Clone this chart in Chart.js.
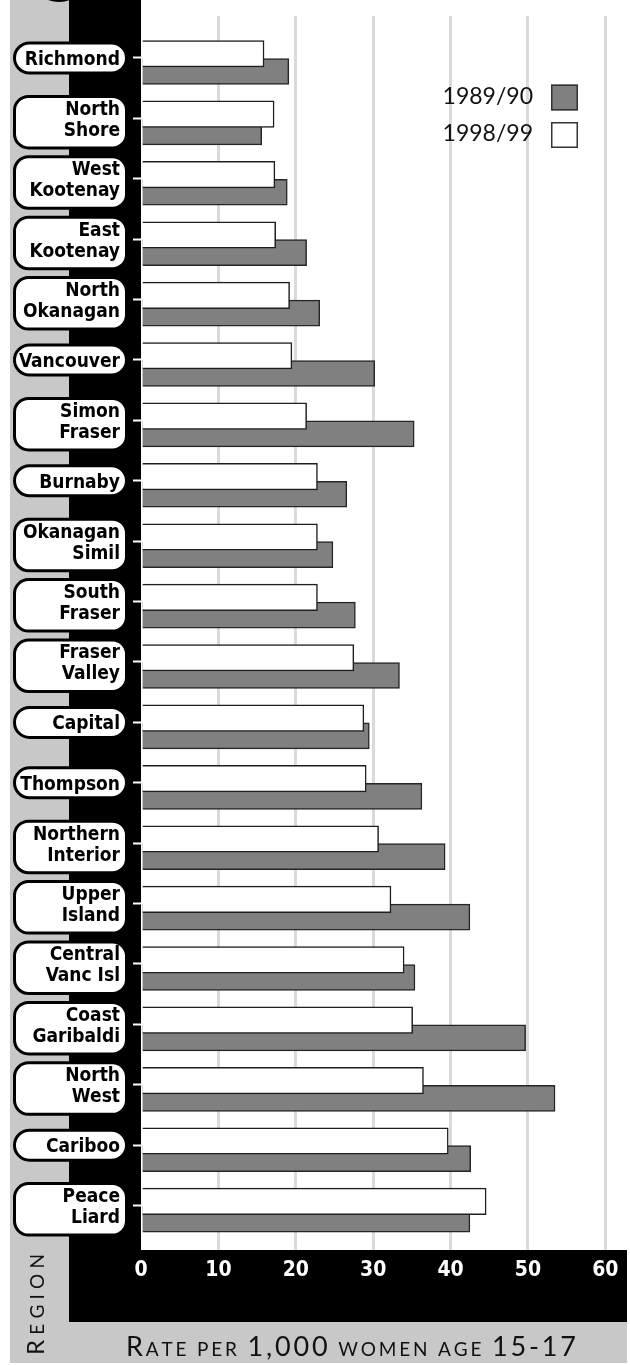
<!DOCTYPE html>
<html>
<head>
<meta charset="utf-8">
<script src="https://cdn.jsdelivr.net/npm/chart.js@4.4.1/dist/chart.umd.min.js"></script>
<style>
html, body { margin: 0; padding: 0; background: #fff; }
canvas { display: block; }
</style>
</head>
<body>
<canvas id="c" width="630" height="1365"></canvas>
<script>
// ---------- data ----------
const categories = [
  ['Richmond'], ['North', 'Shore'], ['West', 'Kootenay'], ['East', 'Kootenay'], ['North', 'Okanagan'],
  ['Vancouver'], ['Simon', 'Fraser'], ['Burnaby'], ['Okanagan', 'Simil'], ['South', 'Fraser'],
  ['Fraser', 'Valley'], ['Capital'], ['Thompson'], ['Northern', 'Interior'], ['Upper', 'Island'],
  ['Central', 'Vanc Isl'], ['Coast', 'Garibaldi'], ['North', 'West'], ['Cariboo'], ['Peace', 'Liard']
];
const seriesNames = ['1989/90', '1998/99'];
const rate1989 = [19.1, 15.6, 18.9, 21.4, 23.1, 30.2, 35.3, 26.6, 24.8, 27.7, 33.4, 29.5, 36.3, 39.3, 42.5, 35.4, 49.7, 53.5, 42.6, 42.5];
const rate1998 = [15.9, 17.2, 17.3, 17.4, 19.2, 19.5, 21.4, 22.8, 22.8, 22.8, 27.5, 28.8, 29.1, 30.7, 32.3, 34.0, 35.1, 36.5, 39.7, 44.6];
const xTicks = [0, 10, 20, 30, 40, 50, 60];
const xTitle = [['R', 1], ['ATE PER ', 0], ['1,000', 1], [' WOMEN AGE ', 0], ['15-17', 1]];
const yTitle = [['R', 1], ['EGION', 0]];

// ---------- styling ----------
const COND = '"DejaVu Sans Condensed", "Liberation Sans Narrow", "DejaVu Sans", sans-serif';
const HUM = 'Lato, "Open Sans", "DejaVu Sans", sans-serif';
const GRAY_FILL = '#808080';
const STRIP = '#c8c8c8';
const GRID = '#dadada';
const Y_MIN = -0.695, Y_SPAN = 20.43;
const WHITE_SHIFT = -0.0695;   // white bars sit slightly above the tick
const GRAY_SHIFT = 0.2235;     // grey bars sit below, partly covered

function drawCaps(ctx, parts, bigSize, smallSize, family, x, y, target) {
  const chars = [];
  parts.forEach(([txt, big]) => {
    for (const ch of txt) chars.push([ch, big ? bigSize : smallSize]);
  });
  let natural = 0;
  chars.forEach(c => { ctx.font = c[1] + 'px ' + family; c.push(ctx.measureText(c[0]).width); natural += c[2]; });
  const sp = (target - natural) / (chars.length - 1);
  let cx = x;
  chars.forEach(c => {
    ctx.font = c[1] + 'px ' + family;
    ctx.fillText(c[0], cx, y);
    cx += c[2] + sp;
  });
}

const backdrop = {
  id: 'backdrop',
  beforeDraw(chart) {
    const { ctx, chartArea: a } = chart;
    ctx.save();
    ctx.fillStyle = '#fff';
    ctx.fillRect(0, 0, chart.width, chart.height);
    ctx.fillStyle = STRIP;
    ctx.fillRect(10, 0, 59, 1363);
    ctx.fillRect(10, 1322, a.right - 10, 41);
    ctx.fillStyle = '#000';
    ctx.fillRect(69, 0, a.left - 69, 1322);
    ctx.fillRect(69, a.bottom, a.right - 69, 1322 - a.bottom);
    ctx.beginPath();
    ctx.arc(59, -29, 31, 0, Math.PI * 2);
    ctx.fill();
    // rounded label boxes
    const ys = chart.scales.y;
    ys.ticks.forEach(t => {
      const lines = categories[t.value].length;
      const py = ys.getPixelForValue(t.value);
      const top = lines > 1 ? py - 22 : py - 15;
      const h = lines > 1 ? 51.5 : 30;
      ctx.beginPath();
      ctx.roundRect(14.5, top, 112, h, lines > 1 ? 14 : 15);
      ctx.fillStyle = '#fff';
      ctx.fill();
      ctx.lineWidth = 3;
      ctx.strokeStyle = '#000';
      ctx.stroke();
    });
    ctx.restore();
  }
};

const decorations = {
  id: 'decorations',
  afterDraw(chart) {
    const { ctx, chartArea: a } = chart;
    ctx.save();
    // legend (box at right of label)
    const items = [chart.data.datasets[1], chart.data.datasets[0]];
    const bx = a.right - 76;
    items.forEach((ds, i) => {
      const top = a.top + 68.5 + i * 37.5;
      ctx.fillStyle = ds.backgroundColor;
      ctx.fillRect(bx, top, 27, 26);
      ctx.lineWidth = 1.5;
      ctx.strokeStyle = '#333';
      ctx.strokeRect(bx + 0.75, top + 0.75, 25.5, 24.5);
      ctx.fillStyle = '#111';
      ctx.font = '23px ' + HUM;
      ctx.textAlign = 'right';
      ctx.textBaseline = 'alphabetic';
      ctx.fillText(ds.label, bx - 18, top + 19);
    });
    // x title in small caps
    ctx.textAlign = 'left';
    ctx.fillStyle = '#111';
    drawCaps(ctx, xTitle, 27, 19, HUM, 126, 1356, 450);
    // rotated y title
    ctx.translate(44, 1355);
    ctx.rotate(-Math.PI / 2);
    drawCaps(ctx, yTitle, 24, 19, HUM, 0, 0, 101);
    ctx.restore();
  }
};

const noPad = s => { s.paddingTop = 0; s.paddingBottom = 0; s.paddingLeft = 0; s.paddingRight = 0; };

const hiddenIndexAxis = (shift) => ({
  type: 'linear', display: false, reverse: true, bounds: 'data', offset: false,
  min: Y_MIN - shift, max: Y_MIN - shift + Y_SPAN
});

new Chart(document.getElementById('c'), {
  type: 'bar',
  data: {
    datasets: [
      {
        label: seriesNames[1],
        data: rate1998.map((v, i) => ({ x: v, y: i })),
        yAxisID: 'yw',
        backgroundColor: '#ffffff',
        borderColor: '#1e1e1e',
        borderWidth: 1.5,
        grouped: false,
        barThickness: 26.5
      },
      {
        label: seriesNames[0],
        data: rate1989.map((v, i) => ({ x: v, y: i })),
        yAxisID: 'yg',
        backgroundColor: GRAY_FILL,
        borderColor: '#262626',
        borderWidth: 1.5,
        grouped: false,
        barThickness: 26
      }
    ]
  },
  options: {
    indexAxis: 'y',
    responsive: false,
    animation: false,
    layout: { padding: { top: 16, right: 3, left: 0, bottom: 0 } },
    plugins: { legend: { display: false }, tooltip: { enabled: false } },
    scales: {
      x: {
        type: 'linear', min: 0, max: 62.8, bounds: 'data', offset: false,
        afterBuildTicks: s => { s.ticks = xTicks.map(v => ({ value: v })); },
        grid: {
          color: c => (c.tick && c.tick.value === 0) ? 'rgba(0,0,0,0)' : GRID,
          lineWidth: 3, drawTicks: false, offset: false
        },
        border: { display: false },
        ticks: { color: '#fff', font: { family: COND, weight: 'bold', size: 21 }, padding: 8 },
        afterFit: s => { s.height = 115; noPad(s); }
      },
      y: {
        type: 'linear', reverse: true, min: Y_MIN, max: Y_MIN + Y_SPAN, bounds: 'data', offset: false,
        afterBuildTicks: s => { s.ticks = categories.map((_, i) => ({ value: i })); },
        ticks: {
          callback: v => categories[v],
          color: '#000',
          font: { family: COND, weight: 'bold', size: 19, lineHeight: 21 / 19 },
          padding: 13, autoSkip: false, labelOffset: 2
        },
        grid: { offset: false, drawOnChartArea: false, drawTicks: true, tickLength: 8, tickColor: '#fff', tickWidth: 2, color: 'rgba(0,0,0,0)' },
        border: { display: false },
        afterFit: s => { s.width = 141; noPad(s); }
      },
      yw: hiddenIndexAxis(WHITE_SHIFT),
      yg: hiddenIndexAxis(GRAY_SHIFT)
    }
  },
  plugins: [backdrop, decorations]
});
</script>
</body>
</html>
